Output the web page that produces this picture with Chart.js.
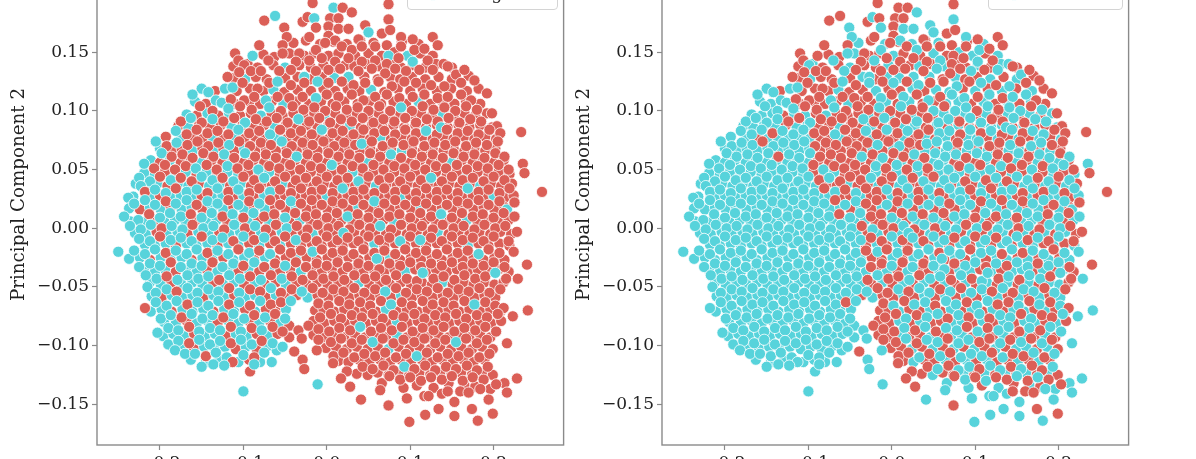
<!DOCTYPE html>
<html>
<head>
<meta charset="utf-8">
<script src="https://cdn.jsdelivr.net/npm/chart.js@4.4.1/dist/chart.umd.min.js"></script>
<style>
html,body{margin:0;padding:0;background:#fff;overflow:hidden;width:1196px;height:459px;position:relative;}
canvas{position:absolute;top:-72px;}
#chartTrue{left:0;}
#chartCluster{left:565px;}
.legend{position:absolute;top:-52px;height:62px;border:1px solid #d4d4d4;border-radius:4px;background:rgba(255,255,255,0.85);font-family:'DejaVu Serif',serif;font-size:17px;color:#222;box-sizing:border-box;}
.legend .mk{position:absolute;width:12px;height:12px;border-radius:50%;border:0.8px solid #fff;box-sizing:border-box;}
.legend .tx{position:absolute;line-height:17px;white-space:nowrap;}
</style>
</head>
<body>
<canvas id="chartTrue" width="570" height="567"></canvas>
<canvas id="chartCluster" width="570" height="567"></canvas>
<div id="legTrue" class="legend" style="left:407px;width:151px;"></div>
<div id="legCluster" class="legend" style="left:988px;width:135px;"></div>
<script>
// ---- tick labels / names ----
const xTicks = [-0.2, -0.1, 0.0, 0.1, 0.2];
const yTicks = [-0.15, -0.10, -0.05, 0.00, 0.05, 0.10, 0.15, 0.20];
const classNames = ['Benign', 'Malignant'];
const clusterNames = ['Cluster 0', 'Cluster 1'];
const xTitle = 'Principal Component 1';
const yTitle = 'Principal Component 2';

// ---- samples: [PC1, PC2, true class, cluster] ----
const topRows = [
[-0.017,0.192,0,0],[0.008,0.188,1,0],[0.019,0.188,0,0],[0.030,0.184,0,1],[0.074,0.191,0,0],
[-0.075,0.177,0,0],[-0.062,0.181,1,0],[-0.029,0.176,0,0],[-0.023,0.180,0,1],[-0.015,0.179,1,0],[0.004,0.179,0,0],[0.014,0.179,0,0],[0.046,0.173,0,1],[0.074,0.178,0,1],
[-0.051,0.171,0,1],[-0.013,0.171,0,1],[0.002,0.172,0,0],[0.014,0.170,0,1],[0.026,0.170,0,1],[0.050,0.167,1,1],[0.066,0.166,0,0],[0.076,0.169,0,0],[-0.048,0.163,0,1],[-0.021,0.163,0,0],[0.002,0.164,0,0],[0.010,0.160,0,1],[0.038,0.161,0,0],[0.089,0.163,0,1],[0.103,0.161,0,0],[0.127,0.163,0,0],
[-0.081,0.156,0,0],[-0.053,0.156,0,0],[-0.053,0.149,0,1],[-0.033,0.149,0,0],[-0.013,0.152,0,1],[-0.002,0.158,0,0],[0.018,0.155,0,0],[0.030,0.152,0,1],[0.042,0.155,0,0],[0.058,0.155,0,0],[0.074,0.147,1,0],[0.089,0.155,0,0],[0.105,0.152,0,1],[0.117,0.153,0,0],[0.133,0.156,0,0],
[-0.110,0.149,0,0],[-0.106,0.143,0,0],[-0.099,0.139,0,1],[-0.089,0.147,1,0],[-0.070,0.143,0,1],[-0.037,0.142,0,0],[-0.021,0.143,0,1],[-0.006,0.145,0,0],[0.010,0.142,0,0],[0.026,0.145,0,0],[0.042,0.142,0,0],[0.058,0.143,0,1],[0.072,0.140,0,0],[0.086,0.145,0,0],[0.103,0.142,1,1],[0.121,0.143,0,0],[0.140,0.140,0,1],
[-0.119,0.129,0,0],[-0.105,0.133,0,0],[-0.091,0.134,0,0],[-0.079,0.134,0,0],[-0.057,0.134,0,1],[-0.043,0.135,0,0],[-0.027,0.129,1,1],[-0.013,0.134,0,0],[0.002,0.135,0,0],[0.016,0.136,0,0],[0.026,0.129,1,1],[0.038,0.134,0,0],[0.054,0.136,0,1],[0.070,0.132,0,0],[0.082,0.136,0,0],[0.095,0.134,0,1],[0.111,0.135,0,0],[0.127,0.135,0,1],[0.145,0.138,0,0],[0.155,0.131,0,1],[0.165,0.135,0,0],
[-0.113,0.120,1,1],[-0.101,0.124,0,0],[-0.083,0.119,0,0],[-0.069,0.124,0,0],[-0.059,0.125,1,1],[-0.043,0.122,0,0],[-0.027,0.124,0,1],[-0.011,0.125,1,0],[0.002,0.124,0,1],[0.018,0.125,0,0],[0.032,0.122,0,1],[0.046,0.124,0,0],[0.062,0.125,0,0],[0.078,0.121,0,1],[0.093,0.125,0,0],[0.107,0.124,0,1],[0.125,0.122,0,0],[0.141,0.121,0,1],[0.161,0.124,0,0],[0.177,0.126,0,0],
[-0.161,0.114,1,1],[-0.142,0.116,1,1],[-0.126,0.107,1,1],[-0.115,0.110,0,0],[-0.099,0.109,0,0],[-0.087,0.112,0,0],[-0.073,0.109,1,1],[-0.059,0.112,0,0],[-0.045,0.111,0,0],[-0.029,0.112,0,0],[-0.013,0.111,1,1],[0.000,0.114,0,0],[0.014,0.112,0,1],[0.030,0.114,0,0],[0.044,0.109,0,1],[0.058,0.112,0,0],[0.072,0.114,0,1],[0.087,0.111,0,1],[0.103,0.112,0,0],[0.117,0.114,0,1],[0.133,0.111,0,0],[0.145,0.112,0,1],[0.161,0.114,0,1],[0.173,0.109,0,0],[0.192,0.115,0,0],
[-0.152,0.104,0,1],[-0.137,0.100,0,1],[-0.118,0.102,1,1],[-0.104,0.104,0,0],[-0.090,0.101,0,0],[-0.069,0.103,1,1],[-0.055,0.100,0,0],[-0.041,0.104,0,0],[-0.028,0.101,0,0],[-0.015,0.103,0,1],[-0.002,0.100,0,0],[0.011,0.104,0,1],[0.024,0.101,0,0],[0.037,0.103,0,0],[0.050,0.100,0,1],[0.063,0.104,0,0],[0.076,0.100,0,1],[0.089,0.103,1,1],[0.102,0.100,0,0],[0.115,0.104,0,1],[0.128,0.101,0,0],[0.141,0.103,0,1],[0.154,0.100,0,1],[0.167,0.104,0,0],[0.180,0.101,0,1],[0.198,0.098,0,0]
];

const midRows = [
[-0.175,0.091,0,1],[-0.163,0.094,1,1],[-0.150,0.090,0,1],[-0.137,0.093,1,1],[-0.124,0.091,0,0],[-0.111,0.094,0,0],[-0.098,0.090,1,1],[-0.085,0.093,0,0],[-0.072,0.091,0,0],[-0.060,0.094,0,0],[-0.047,0.090,0,0],[-0.034,0.093,1,1],[-0.021,0.091,0,0],[-0.009,0.094,0,1],[0.004,0.090,0,0],[0.017,0.093,0,0],[0.030,0.091,0,1],[0.043,0.094,0,0],[0.056,0.090,0,1],[0.068,0.093,0,1],[0.081,0.091,0,0],[0.094,0.094,0,1],[0.107,0.090,0,1],[0.120,0.093,0,0],[0.133,0.091,0,0],[0.146,0.094,0,1],[0.159,0.090,0,0],[0.172,0.093,0,1],[0.185,0.091,0,1],[0.204,0.087,0,0],
[-0.181,0.083,1,1],[-0.168,0.080,0,1],[-0.156,0.084,0,1],[-0.143,0.081,0,0],[-0.131,0.083,0,1],[-0.118,0.080,0,1],[-0.106,0.084,1,1],[-0.093,0.081,0,0],[-0.081,0.083,0,0],[-0.068,0.080,1,1],[-0.056,0.084,0,0],[-0.043,0.081,0,0],[-0.031,0.083,0,1],[-0.018,0.080,0,0],[-0.006,0.084,1,1],[0.007,0.081,0,0],[0.019,0.083,0,1],[0.032,0.080,0,0],[0.044,0.084,0,0],[0.057,0.081,0,1],[0.069,0.083,0,1],[0.082,0.080,0,0],[0.094,0.084,0,1],[0.107,0.081,0,0],[0.119,0.083,1,1],[0.132,0.080,0,0],[0.137,0.086,1,1],[0.144,0.084,0,1],[0.157,0.081,0,0],[0.169,0.083,0,1],[0.182,0.080,0,1],[0.195,0.084,0,0],[0.208,0.081,0,0],[0.233,0.082,0,0],
[-0.205,0.074,1,1],[-0.192,0.070,0,1],[-0.180,0.073,1,1],[-0.167,0.071,0,1],[-0.155,0.074,0,0],[-0.142,0.070,0,1],[-0.130,0.073,0,1],[-0.117,0.071,1,1],[-0.105,0.074,0,1],[-0.092,0.070,0,0],[-0.079,0.073,0,0],[-0.067,0.071,0,0],[-0.054,0.074,1,0],[-0.042,0.070,0,0],[-0.029,0.073,0,0],[-0.017,0.071,0,1],[-0.004,0.074,0,0],[0.009,0.070,0,1],[0.021,0.073,0,0],[0.034,0.071,0,0],[0.042,0.072,1,1],[0.054,0.074,0,1],[0.067,0.070,0,1],[0.079,0.073,0,0],[0.092,0.071,0,1],[0.104,0.074,0,1],[0.117,0.070,0,0],[0.129,0.073,0,0],[0.142,0.071,0,1],[0.154,0.074,0,0],[0.167,0.070,0,1],[0.179,0.073,0,1],[0.192,0.071,0,0],[0.205,0.074,0,0],
[-0.198,0.064,1,1],[-0.186,0.061,0,1],[-0.173,0.063,0,1],[-0.161,0.060,0,1],[-0.148,0.064,0,1],[-0.136,0.061,0,0],[-0.123,0.063,1,1],[-0.111,0.060,0,1],[-0.098,0.064,1,1],[-0.086,0.061,0,0],[-0.073,0.063,0,0],[-0.061,0.060,0,0],[-0.048,0.064,0,0],[-0.036,0.061,1,1],[-0.023,0.063,0,0],[-0.011,0.060,0,1],[0.002,0.064,0,0],[0.014,0.061,0,0],[0.027,0.063,0,1],[0.039,0.060,0,0],[0.052,0.064,0,1],[0.064,0.061,0,1],[0.077,0.063,1,1],[0.089,0.060,0,0],[0.102,0.064,0,1],[0.114,0.061,0,1],[0.127,0.063,0,0],[0.139,0.060,0,0],[0.152,0.064,0,1],[0.164,0.061,0,0],[0.177,0.063,0,1],[0.189,0.060,0,1],[0.202,0.064,0,0],[0.213,0.061,0,1],
[-0.219,0.055,1,1],[-0.207,0.051,0,1],[-0.194,0.054,0,1],[-0.182,0.050,0,1],[-0.169,0.053,0,1],[-0.157,0.051,1,1],[-0.144,0.054,0,1],[-0.132,0.050,0,1],[-0.119,0.053,1,1],[-0.107,0.051,0,1],[-0.094,0.054,0,0],[-0.082,0.050,1,1],[-0.069,0.053,0,0],[-0.057,0.051,0,0],[-0.044,0.054,0,0],[-0.032,0.050,0,0],[-0.019,0.053,0,1],[-0.007,0.051,0,0],[0.006,0.054,1,1],[0.018,0.050,0,0],[0.031,0.053,0,1],[0.043,0.051,0,0],[0.056,0.054,0,1],[0.068,0.050,0,1],[0.081,0.053,0,0],[0.093,0.051,0,1],[0.106,0.054,0,0],[0.118,0.050,0,1],[0.131,0.053,0,1],[0.143,0.051,0,0],[0.156,0.054,0,0],[0.168,0.050,0,1],[0.181,0.053,0,0],[0.193,0.051,0,1],[0.206,0.054,0,1],[0.218,0.050,0,0],[0.235,0.055,0,1],[0.237,0.047,0,0],
[-0.225,0.043,1,1],[-0.212,0.040,1,1],[-0.200,0.044,0,1],[-0.187,0.041,1,1],[-0.175,0.043,0,1],[-0.162,0.040,0,1],[-0.150,0.044,1,1],[-0.137,0.041,1,1],[-0.125,0.043,0,1],[-0.112,0.040,1,1],[-0.100,0.044,0,1],[-0.087,0.041,0,0],[-0.075,0.043,1,1],[-0.062,0.040,0,0],[-0.050,0.044,0,0],[-0.037,0.041,0,0],[-0.025,0.043,0,1],[-0.012,0.040,0,0],[0.000,0.044,0,0],[0.013,0.041,0,1],[0.025,0.043,0,0],[0.038,0.040,1,1],[0.050,0.044,0,0],[0.063,0.041,0,1],[0.075,0.043,0,1],[0.088,0.040,0,0],[0.100,0.044,0,1],[0.113,0.041,0,0],[0.125,0.043,1,1],[0.138,0.040,0,0],[0.150,0.044,0,1],[0.163,0.041,0,1],[0.175,0.043,0,0],[0.188,0.040,0,1],[0.200,0.044,0,0],[0.213,0.041,0,1],
[-0.238,0.026,1,1],[-0.223,0.036,1,1],[-0.218,0.031,0,1],[-0.206,0.033,1,1],[-0.193,0.030,1,1],[-0.181,0.034,0,1],[-0.168,0.031,1,1],[-0.156,0.033,1,1],[-0.143,0.030,0,1],[-0.131,0.034,1,1],[-0.118,0.031,0,1],[-0.106,0.033,1,1],[-0.093,0.030,0,1],[-0.081,0.034,0,0],[-0.068,0.031,1,1],[-0.056,0.033,0,0],[-0.043,0.030,0,1],[-0.031,0.034,0,0],[-0.018,0.031,0,0],[-0.006,0.033,0,1],[0.007,0.030,0,0],[0.019,0.034,1,1],[0.032,0.031,0,0],[0.044,0.033,0,1],[0.057,0.030,0,0],[0.069,0.034,0,1],[0.082,0.031,0,1],[0.094,0.033,0,0],[0.107,0.030,0,1],[0.119,0.034,0,0],[0.132,0.031,0,1],[0.144,0.033,0,1],[0.157,0.030,0,0],[0.169,0.034,1,1],[0.182,0.031,0,0],[0.194,0.033,0,1],[0.207,0.030,0,0],[0.219,0.034,0,1],[0.258,0.031,0,0],
[-0.231,0.021,1,1],[-0.218,0.024,1,1],[-0.206,0.020,1,1],[-0.193,0.023,0,1],[-0.181,0.021,1,1],[-0.168,0.024,1,1],[-0.156,0.020,0,1],[-0.143,0.023,1,1],[-0.131,0.021,1,1],[-0.118,0.024,0,1],[-0.106,0.020,1,1],[-0.093,0.023,0,1],[-0.081,0.021,1,1],[-0.068,0.024,0,0],[-0.056,0.020,0,1],[-0.043,0.023,1,1],[-0.031,0.021,0,0],[-0.018,0.024,0,0],[-0.006,0.020,0,1],[0.007,0.023,0,0],[0.019,0.021,0,1],[0.032,0.024,0,0],[0.044,0.020,0,1],[0.057,0.023,1,1],[0.069,0.021,0,0],[0.082,0.024,0,1],[0.094,0.020,0,1],[0.107,0.023,0,0],[0.119,0.021,0,1],[0.132,0.024,0,0],[0.144,0.020,0,1],[0.157,0.023,0,0],[0.169,0.021,0,1],[0.182,0.024,0,1],[0.194,0.020,0,0],[0.207,0.023,0,1],[0.216,0.016,1,1],[0.225,0.022,0,0],
[-0.243,0.010,1,1],[-0.226,0.007,1,1],[-0.213,0.012,0,1],[-0.200,0.009,1,1],[-0.188,0.013,1,1],[-0.175,0.010,1,1],[-0.163,0.012,0,1],[-0.150,0.009,1,1],[-0.138,0.013,1,1],[-0.125,0.010,0,1],[-0.113,0.012,1,1],[-0.100,0.009,0,1],[-0.088,0.013,1,1],[-0.075,0.010,0,1],[-0.063,0.012,0,0],[-0.050,0.009,1,1],[-0.038,0.013,0,1],[-0.025,0.010,0,0],[-0.013,0.012,0,0],[0.000,0.009,0,1],[0.012,0.013,0,0],[0.025,0.010,1,1],[0.037,0.012,0,0],[0.050,0.009,0,1],[0.062,0.013,0,0],[0.075,0.010,0,1],[0.087,0.012,0,1],[0.100,0.009,0,0],[0.112,0.013,0,1],[0.125,0.010,0,0],[0.137,0.012,1,1],[0.150,0.009,0,0],[0.162,0.013,0,1],[0.175,0.010,0,1],[0.187,0.012,0,0],[0.200,0.009,0,1],[0.212,0.013,0,0],[0.225,0.010,0,1],
[-0.236,0.002,1,1],[-0.223,-0.001,1,1],[-0.211,0.003,1,1],[-0.198,0.000,0,1],[-0.186,0.002,1,1],[-0.173,-0.001,1,1],[-0.161,0.003,0,1],[-0.148,0.000,1,1],[-0.136,0.002,1,1],[-0.123,-0.001,0,1],[-0.111,0.003,1,1],[-0.098,0.000,0,1],[-0.086,0.002,1,1],[-0.073,-0.001,0,1],[-0.061,0.003,0,1],[-0.048,0.000,1,1],[-0.036,0.002,0,0],[-0.023,-0.001,0,1],[-0.011,0.003,0,0],[0.002,0.000,0,0],[0.014,0.002,0,1],[0.027,-0.001,0,0],[0.039,0.003,0,1],[0.052,0.000,0,0],[0.064,0.002,1,1],[0.077,-0.001,0,1],[0.089,0.003,0,0],[0.102,0.000,0,1],[0.114,0.002,0,0],[0.127,-0.001,0,1],[0.139,0.003,0,1],[0.152,0.000,0,0],[0.164,0.002,0,1],[0.177,-0.001,0,0],[0.189,0.003,0,1],[0.202,0.000,0,1],[0.214,0.002,0,0],[0.228,-0.003,0,0],
[-0.225,-0.009,1,1],[-0.212,-0.011,1,1],[-0.200,-0.007,0,1],[-0.187,-0.010,1,1],[-0.175,-0.008,1,1],[-0.162,-0.011,1,1],[-0.150,-0.007,0,1],[-0.137,-0.010,1,1],[-0.125,-0.008,1,1],[-0.112,-0.011,0,1],[-0.100,-0.007,1,1],[-0.087,-0.010,0,1],[-0.075,-0.008,1,1],[-0.062,-0.011,0,1],[-0.050,-0.007,0,1],[-0.037,-0.010,1,1],[-0.025,-0.008,0,0],[-0.012,-0.011,0,0],[0.000,-0.007,0,1],[0.013,-0.010,0,0],[0.020,-0.004,1,1],[0.025,-0.008,0,1],[0.038,-0.011,0,0],[0.050,-0.007,0,1],[0.063,-0.010,0,1],[0.075,-0.008,0,0],[0.088,-0.011,1,1],[0.100,-0.007,0,0],[0.112,-0.010,1,1],[0.125,-0.008,0,0],[0.138,-0.011,0,1],[0.150,-0.007,0,1],[0.163,-0.010,0,0],[0.175,-0.008,0,1],[0.188,-0.011,0,0],[0.200,-0.007,0,1],[0.218,-0.011,0,0]
];

const lowRows = [
[-0.250,-0.020,1,1],[-0.231,-0.019,1,1],[-0.218,-0.022,1,1],[-0.206,-0.018,1,1],[-0.193,-0.021,0,1],[-0.181,-0.019,1,1],[-0.168,-0.022,1,1],[-0.156,-0.018,1,1],[-0.143,-0.021,0,1],[-0.131,-0.019,1,1],[-0.118,-0.022,1,1],[-0.106,-0.018,0,1],[-0.093,-0.021,1,1],[-0.081,-0.019,0,1],[-0.068,-0.022,1,1],[-0.056,-0.018,0,1],[-0.043,-0.021,0,1],[-0.031,-0.019,0,0],[-0.017,-0.020,1,1],[-0.006,-0.018,0,0],[0.007,-0.021,0,1],[0.019,-0.019,0,0],[0.032,-0.022,0,1],[0.044,-0.018,0,1],[0.057,-0.021,0,0],[0.069,-0.019,0,1],[0.082,-0.022,0,1],[0.094,-0.018,0,0],[0.107,-0.021,0,1],[0.119,-0.019,0,1],[0.132,-0.022,0,0],[0.144,-0.018,0,1],[0.157,-0.021,0,0],[0.169,-0.019,0,1],[0.182,-0.022,1,1],[0.194,-0.018,0,0],[0.207,-0.021,0,1],[0.224,-0.020,0,1],
[-0.225,-0.033,1,1],[-0.212,-0.030,1,1],[-0.200,-0.032,1,1],[-0.187,-0.029,0,1],[-0.175,-0.033,1,1],[-0.162,-0.030,1,1],[-0.150,-0.032,1,1],[-0.137,-0.029,0,1],[-0.125,-0.033,1,1],[-0.112,-0.030,1,1],[-0.100,-0.032,0,1],[-0.087,-0.029,1,1],[-0.075,-0.033,0,1],[-0.062,-0.030,0,1],[-0.050,-0.032,1,1],[-0.037,-0.029,0,1],[-0.025,-0.033,0,0],[-0.012,-0.030,0,0],[0.000,-0.032,0,1],[0.013,-0.029,0,0],[0.025,-0.033,0,1],[0.038,-0.030,0,0],[0.050,-0.032,0,1],[0.060,-0.026,1,1],[0.063,-0.035,0,1],[0.075,-0.030,0,0],[0.088,-0.032,0,1],[0.100,-0.029,0,1],[0.113,-0.033,0,0],[0.125,-0.030,0,1],[0.138,-0.032,0,0],[0.150,-0.029,0,1],[0.163,-0.033,0,1],[0.175,-0.030,0,0],[0.188,-0.032,0,1],[0.200,-0.029,0,1],[0.213,-0.033,0,0],[0.240,-0.031,0,0],
[-0.217,-0.040,1,1],[-0.204,-0.043,1,1],[-0.192,-0.041,0,1],[-0.179,-0.044,1,1],[-0.167,-0.040,1,1],[-0.154,-0.043,1,1],[-0.142,-0.041,1,1],[-0.129,-0.044,0,1],[-0.117,-0.040,1,1],[-0.104,-0.043,1,1],[-0.092,-0.041,0,1],[-0.079,-0.044,1,1],[-0.067,-0.040,0,1],[-0.054,-0.043,1,1],[-0.042,-0.041,0,1],[-0.029,-0.044,0,0],[-0.017,-0.040,0,1],[-0.004,-0.043,0,0],[0.008,-0.041,0,0],[0.021,-0.044,0,1],[0.033,-0.040,0,0],[0.046,-0.043,0,1],[0.058,-0.041,0,1],[0.071,-0.044,0,0],[0.083,-0.040,0,1],[0.096,-0.043,0,0],[0.108,-0.045,0,1],[0.115,-0.038,1,1],[0.128,-0.043,0,0],[0.140,-0.041,0,1],[0.153,-0.044,0,0],[0.165,-0.040,0,1],[0.178,-0.043,0,1],[0.190,-0.041,0,0],[0.202,-0.038,1,1],[0.215,-0.043,0,0],[0.229,-0.043,0,1],
[-0.215,-0.050,1,1],[-0.205,-0.055,1,1],[-0.192,-0.052,1,1],[-0.180,-0.054,0,1],[-0.167,-0.051,1,1],[-0.155,-0.055,1,1],[-0.142,-0.052,1,1],[-0.130,-0.054,1,1],[-0.117,-0.051,0,1],[-0.105,-0.055,1,1],[-0.092,-0.052,0,1],[-0.080,-0.054,0,1],[-0.067,-0.051,1,1],[-0.055,-0.055,0,1],[-0.042,-0.052,0,1],[-0.030,-0.054,1,1],[-0.017,-0.051,0,0],[-0.005,-0.055,0,0],[0.008,-0.052,0,1],[0.020,-0.054,0,0],[0.033,-0.051,0,1],[0.045,-0.055,0,1],[0.058,-0.052,0,0],[0.070,-0.054,1,1],[0.083,-0.051,0,0],[0.095,-0.055,0,1],[0.108,-0.052,0,1],[0.120,-0.054,0,0],[0.133,-0.051,0,1],[0.145,-0.055,0,0],[0.158,-0.052,0,1],[0.170,-0.054,0,1],[0.183,-0.051,0,0],[0.195,-0.055,0,1],[0.208,-0.052,0,0],
[-0.218,-0.068,0,1],[-0.205,-0.063,1,1],[-0.192,-0.066,1,1],[-0.180,-0.062,1,1],[-0.167,-0.065,0,1],[-0.155,-0.063,1,1],[-0.142,-0.066,1,1],[-0.130,-0.062,1,1],[-0.117,-0.065,0,1],[-0.105,-0.063,1,1],[-0.092,-0.066,0,1],[-0.080,-0.062,1,1],[-0.067,-0.065,0,1],[-0.055,-0.063,0,0],[-0.043,-0.062,1,1],[-0.010,-0.064,0,0],[0.002,-0.066,0,1],[0.015,-0.062,0,0],[0.027,-0.065,0,1],[0.040,-0.063,0,1],[0.052,-0.066,0,0],[0.065,-0.062,0,1],[0.077,-0.065,1,1],[0.090,-0.063,0,0],[0.102,-0.066,0,1],[0.115,-0.062,0,1],[0.127,-0.065,0,0],[0.140,-0.063,0,0],[0.152,-0.066,0,1],[0.165,-0.062,0,0],[0.177,-0.065,1,1],[0.190,-0.063,0,0],[0.202,-0.066,0,1],[0.212,-0.068,0,0],
[-0.199,-0.077,1,1],[-0.187,-0.074,1,1],[-0.174,-0.076,0,1],[-0.162,-0.073,1,1],[-0.149,-0.077,1,1],[-0.137,-0.074,1,1],[-0.124,-0.076,0,1],[-0.112,-0.073,1,1],[-0.099,-0.077,1,1],[-0.087,-0.074,0,1],[-0.074,-0.076,1,1],[-0.062,-0.073,0,1],[-0.050,-0.077,1,1],[-0.008,-0.076,0,0],[0.005,-0.073,0,0],[0.017,-0.077,0,1],[0.030,-0.074,0,0],[0.042,-0.076,0,1],[0.055,-0.073,0,1],[0.067,-0.077,0,0],[0.080,-0.074,0,1],[0.092,-0.076,0,0],[0.105,-0.073,0,1],[0.117,-0.077,0,0],[0.130,-0.074,0,1],[0.142,-0.076,0,1],[0.155,-0.073,0,0],[0.167,-0.077,0,1],[0.180,-0.074,0,0],[0.192,-0.076,0,0],[0.205,-0.073,0,1],[0.223,-0.075,0,1],[0.241,-0.070,0,1],
[-0.203,-0.089,1,1],[-0.190,-0.085,1,1],[-0.178,-0.087,1,1],[-0.165,-0.084,0,1],[-0.153,-0.088,1,1],[-0.140,-0.085,1,1],[-0.128,-0.087,1,1],[-0.115,-0.084,0,1],[-0.103,-0.088,1,1],[-0.090,-0.085,0,1],[-0.078,-0.087,1,1],[-0.065,-0.084,0,1],[-0.053,-0.088,0,1],[-0.022,-0.083,0,0],[-0.010,-0.086,0,0],[0.003,-0.088,0,0],[0.015,-0.085,0,1],[0.028,-0.087,0,0],[0.040,-0.084,1,1],[0.053,-0.088,0,0],[0.065,-0.085,0,1],[0.078,-0.087,0,1],[0.090,-0.084,0,0],[0.103,-0.088,0,1],[0.115,-0.085,0,0],[0.128,-0.087,0,1],[0.140,-0.084,0,1],[0.153,-0.088,0,0],[0.165,-0.085,0,1],[0.178,-0.087,0,0],[0.190,-0.084,0,1],[0.203,-0.088,0,1],
[-0.190,-0.099,1,1],[-0.178,-0.096,1,1],[-0.165,-0.098,0,1],[-0.153,-0.095,1,1],[-0.140,-0.099,1,1],[-0.128,-0.096,1,1],[-0.115,-0.098,0,1],[-0.103,-0.095,1,1],[-0.090,-0.099,1,1],[-0.078,-0.096,0,1],[-0.065,-0.098,1,1],[-0.053,-0.101,1,1],[-0.039,-0.105,0,0],[-0.012,-0.104,0,1],[-0.010,-0.095,0,0],[0.005,-0.097,0,0],[0.017,-0.094,0,1],[0.030,-0.098,0,0],[0.042,-0.095,0,1],[0.055,-0.097,1,1],[0.067,-0.094,0,0],[0.080,-0.098,0,1],[0.092,-0.095,0,1],[0.105,-0.097,0,0],[0.117,-0.094,0,0],[0.130,-0.098,0,1],[0.142,-0.095,0,0],[0.155,-0.097,1,1],[0.167,-0.094,0,0],[0.180,-0.098,0,1],[0.192,-0.095,0,0],[0.216,-0.098,0,1],
[-0.182,-0.104,1,1],[-0.170,-0.107,1,1],[-0.158,-0.107,1,1],[-0.145,-0.109,0,1],[-0.133,-0.106,1,1],[-0.120,-0.110,1,1],[-0.113,-0.114,0,1],[-0.100,-0.108,1,1],[-0.087,-0.110,0,1],[-0.075,-0.106,1,1],[-0.066,-0.114,1,1],[-0.029,-0.112,0,1],[0.008,-0.109,0,0],[0.020,-0.106,0,0],[0.033,-0.110,0,1],[0.045,-0.107,0,0],[0.058,-0.109,0,1],[0.070,-0.106,0,0],[0.083,-0.110,0,1],[0.095,-0.107,0,1],[0.108,-0.109,1,1],[0.120,-0.106,0,0],[0.133,-0.110,0,1],[0.145,-0.107,0,0],[0.158,-0.109,0,0],[0.170,-0.106,0,1],[0.183,-0.110,0,0],[0.195,-0.107,0,1],
[-0.150,-0.118,1,1],[-0.136,-0.116,1,1],[-0.123,-0.117,1,1],[-0.092,-0.122,0,1],[-0.087,-0.116,1,1],[-0.027,-0.120,0,1],[0.0075,-0.115,0,0],[0.024,-0.122,0,0],[0.043,-0.118,0,0],[0.055,-0.120,0,1],[0.068,-0.117,0,0],[0.080,-0.121,0,1],[0.093,-0.118,1,1],[0.105,-0.120,0,0],[0.118,-0.117,0,1],[0.130,-0.121,0,1],[0.143,-0.118,0,0],[0.155,-0.120,0,1],[0.168,-0.117,0,0],[0.180,-0.121,0,0],[0.193,-0.118,0,1],
[0.017,-0.128,0,0],[0.066,-0.132,0,1],[0.075,-0.126,0,0],[0.088,-0.129,0,1],[0.100,-0.127,0,0],[0.113,-0.130,0,1],[0.125,-0.127,0,0],[0.138,-0.129,0,0],[0.150,-0.126,0,1],[0.163,-0.130,0,0],[0.175,-0.127,0,1],[0.188,-0.129,0,0],[0.213,-0.132,0,1],[0.228,-0.128,0,1]
];

const fillRows = [
[-0.040,0.158,0,1],[-0.025,0.160,0,0],[-0.008,0.157,0,1],[0.008,0.159,0,0],[0.024,0.157,0,1],[0.040,0.160,0,0],[0.056,0.158,0,1],[0.072,0.156,0,0],[0.090,0.159,0,0],[0.110,0.157,0,1],
[-0.076,0.148,0,0],[-0.063,0.146,0,0],[-0.045,0.149,0,1],[-0.027,0.147,0,0],[-0.015,0.149,0,0],[0.002,0.147,0,1],[0.014,0.149,0,0],[0.034,0.147,0,0],[0.050,0.149,0,1],[0.066,0.147,0,0],[0.081,0.150,0,1],[0.097,0.147,1,1],[0.112,0.149,0,0],[0.127,0.147,0,1],
[-0.112,0.138,0,0],[-0.095,0.140,0,1],[-0.083,0.137,0,0],[-0.064,0.139,0,0],[-0.050,0.137,1,1],[-0.033,0.139,0,0],[-0.019,0.137,0,0],[-0.004,0.139,0,1],[0.009,0.137,0,0],[0.022,0.139,0,0],[0.033,0.138,0,1],[0.047,0.140,0,0],[0.063,0.138,0,1],[0.077,0.140,0,0],[0.089,0.137,0,0],[0.103,0.139,0,1],[0.118,0.137,0,0],[0.131,0.140,0,1],[0.150,0.137,0,0],
[-0.112,0.128,0,0],[-0.098,0.127,1,1],[-0.085,0.129,0,0],[-0.072,0.127,0,0],[-0.050,0.128,0,0],[-0.035,0.129,0,1],[-0.020,0.127,0,0],[-0.006,0.129,0,1],[0.009,0.128,1,1],[0.024,0.126,0,0],[0.045,0.129,0,1],[0.061,0.127,0,0],[0.076,0.129,0,1],[0.088,0.127,0,0],[0.102,0.129,0,0],[0.118,0.127,0,1],[0.134,0.129,0,0],[0.150,0.127,0,1],[0.170,0.130,0,0],
[-0.150,0.119,1,1],[-0.134,0.117,0,0],[-0.122,0.119,1,1],[-0.108,0.117,0,0],[-0.092,0.119,0,0],[-0.076,0.117,0,0],[-0.064,0.118,1,1],[-0.051,0.116,0,0],[-0.035,0.118,0,0],[-0.019,0.117,0,1],[-0.004,0.119,0,0],[0.010,0.117,0,0],[0.025,0.119,0,1],[0.039,0.117,0,0],[0.053,0.118,1,1],[0.069,0.116,0,1],[0.085,0.119,0,0],[0.100,0.117,0,1],[0.115,0.119,0,0],[0.132,0.117,0,1],[0.149,0.119,0,0],[0.168,0.117,0,1],[0.182,0.119,0,0],
[-0.158,0.108,1,1],[-0.145,0.106,0,1],[-0.133,0.109,1,1],[-0.110,0.106,0,0],[-0.093,0.108,0,0],[-0.080,0.106,0,0],[-0.066,0.108,0,0],[-0.052,0.106,1,1],[-0.037,0.108,0,0],[-0.021,0.106,0,0],[-0.007,0.108,0,1],[0.007,0.106,0,0],[0.021,0.108,0,1],[0.037,0.106,0,0],[0.051,0.108,0,0],[0.065,0.106,0,1],[0.080,0.108,0,1],[0.095,0.106,0,0],[0.110,0.108,1,1],[0.124,0.106,0,0],[0.139,0.108,0,1],[0.153,0.106,0,0],[0.167,0.108,0,1],[0.184,0.106,0,0],
[-0.168,0.097,1,1],[-0.156,0.096,0,1],[-0.143,0.098,1,1],[-0.130,0.096,0,0],[-0.117,0.098,1,1],[-0.104,0.096,0,1],[-0.091,0.098,0,0],[-0.079,0.096,1,1],[-0.066,0.098,0,0],[-0.053,0.096,0,0],[-0.040,0.098,0,0],[-0.028,0.096,0,1],[-0.015,0.098,0,0],[-0.003,0.096,1,1],[0.010,0.098,0,0],[0.023,0.096,0,1],[0.036,0.098,0,0],[0.049,0.096,0,0],[0.062,0.098,0,1],[0.075,0.096,0,0],[0.088,0.098,0,1],[0.101,0.096,0,0],[0.113,0.098,0,1],[0.126,0.096,0,0],[0.139,0.098,1,1],[0.152,0.096,0,0],[0.165,0.098,0,1],[0.178,0.096,0,0],[0.192,0.098,0,1],
[-0.178,0.087,0,1],[-0.166,0.086,1,1],[-0.153,0.088,0,1],[-0.140,0.086,0,1],[-0.127,0.088,0,0],[-0.114,0.086,1,1],[-0.101,0.088,0,1],[-0.088,0.086,0,0],[-0.075,0.088,0,0],[-0.062,0.086,1,1],[-0.049,0.088,0,0],[-0.036,0.086,0,0],[-0.024,0.088,0,1],[-0.011,0.086,0,0],[0.002,0.088,0,0],[0.015,0.086,0,1],[0.028,0.088,1,1],[0.041,0.086,0,0],[0.054,0.088,0,1],[0.067,0.086,0,0],[0.080,0.088,0,1],[0.093,0.086,0,0],[0.106,0.088,0,0],[0.119,0.086,0,1],[0.132,0.088,0,1],[0.145,0.086,0,0],[0.158,0.088,0,1],[0.171,0.086,0,0],[0.184,0.088,0,0],[0.198,0.086,0,1],
[-0.193,0.078,0,1],[-0.175,0.076,1,1],[-0.162,0.078,0,0],[-0.149,0.076,0,1],[-0.137,0.078,1,1],[-0.124,0.076,0,1],[-0.111,0.078,1,1],[-0.099,0.076,0,1],[-0.086,0.078,0,0],[-0.074,0.076,0,0],[-0.061,0.077,1,1],[-0.048,0.076,0,0],[-0.036,0.078,0,0],[-0.023,0.076,0,1],[-0.010,0.078,0,0],[0.002,0.076,0,0],[0.015,0.078,0,1],[0.027,0.076,0,0],[0.040,0.078,0,1],[0.052,0.076,0,0],[0.065,0.078,1,1],[0.077,0.076,0,0],[0.090,0.078,0,1],[0.102,0.076,0,1],[0.115,0.078,0,0],[0.127,0.076,0,1],[0.140,0.078,0,0],[0.152,0.076,0,1],[0.165,0.078,0,0],[0.177,0.076,0,1],[0.190,0.078,0,0],[0.203,0.076,0,1],
[-0.200,0.068,1,1],[-0.186,0.066,0,1],[-0.174,0.068,0,1],[-0.161,0.066,1,1],[-0.149,0.068,0,1],[-0.136,0.066,1,1],[-0.124,0.068,0,1],[-0.111,0.066,0,1],[-0.099,0.068,1,1],[-0.086,0.066,0,0],[-0.073,0.068,0,0],[-0.061,0.066,0,0],[-0.048,0.068,0,0],[-0.036,0.066,0,0],[-0.023,0.068,0,1],[-0.011,0.066,0,0],[0.002,0.068,0,1],[0.015,0.066,0,0],[0.027,0.068,0,0],[0.040,0.066,0,1],[0.052,0.068,0,0],[0.065,0.066,0,1],[0.077,0.068,0,0],[0.090,0.066,1,1],[0.102,0.068,0,0],[0.115,0.066,0,1],[0.127,0.068,0,0],[0.140,0.066,0,1],[0.152,0.068,0,1],[0.165,0.066,0,0],[0.177,0.068,0,0],[0.190,0.066,0,1],[0.202,0.068,0,0],
[-0.211,0.058,1,1],[-0.200,0.056,0,1],[-0.188,0.058,1,1],[-0.175,0.056,0,1],[-0.163,0.058,0,1],[-0.150,0.056,1,1],[-0.138,0.058,0,1],[-0.125,0.056,0,1],[-0.113,0.058,1,1],[-0.100,0.056,0,1],[-0.088,0.058,0,0],[-0.075,0.056,0,0],[-0.063,0.058,1,1],[-0.050,0.056,0,0],[-0.038,0.058,0,0],[-0.025,0.056,0,0],[-0.013,0.058,0,1],[0.000,0.056,0,0],[0.012,0.058,0,1],[0.025,0.056,0,0],[0.037,0.058,0,0],[0.050,0.056,1,1],[0.062,0.058,0,1],[0.075,0.056,0,0],[0.087,0.058,0,1],[0.100,0.056,0,0],[0.112,0.058,0,1],[0.125,0.056,0,0],[0.137,0.058,0,1],[0.150,0.056,1,1],[0.162,0.058,0,0],[0.175,0.056,0,1],[0.187,0.058,0,0],[0.200,0.056,0,1],[0.212,0.058,0,0],
[-0.219,0.047,1,1],[-0.206,0.046,1,1],[-0.194,0.048,0,1],[-0.181,0.046,1,1],[-0.169,0.048,1,1],[-0.156,0.046,0,1],[-0.144,0.048,1,1],[-0.131,0.046,0,1],[-0.119,0.048,1,1],[-0.106,0.046,1,1],[-0.094,0.048,0,0],[-0.081,0.046,0,0],[-0.069,0.048,1,1],[-0.056,0.046,0,0],[-0.044,0.048,0,0],[-0.031,0.046,0,0],[-0.019,0.048,0,1],[-0.006,0.046,0,0],[0.006,0.048,0,1],[0.019,0.046,0,0],[0.031,0.048,1,1],[0.044,0.046,0,0],[0.056,0.048,0,1],[0.069,0.046,0,0],[0.081,0.048,0,1],[0.094,0.046,0,0],[0.106,0.048,0,1],[0.119,0.046,0,0],[0.131,0.048,0,0],[0.144,0.046,0,1],[0.156,0.048,0,0],[0.169,0.046,1,1],[0.181,0.048,0,0],[0.194,0.046,0,1],[0.206,0.048,0,0],[0.219,0.046,0,1],
[-0.229,0.038,1,1],[-0.216,0.036,1,1],[-0.203,0.038,1,1],[-0.191,0.036,0,1],[-0.178,0.038,1,1],[-0.166,0.036,1,1],[-0.153,0.038,0,1],[-0.141,0.036,1,1],[-0.128,0.038,1,1],[-0.116,0.036,0,1],[-0.103,0.038,1,1],[-0.091,0.036,0,1],[-0.078,0.038,0,0],[-0.066,0.036,0,0],[-0.053,0.038,1,1],[-0.041,0.036,0,0],[-0.028,0.038,0,0],[-0.016,0.036,0,1],[-0.003,0.038,0,0],[0.009,0.036,0,1],[0.022,0.038,0,0],[0.034,0.036,0,0],[0.047,0.038,0,1],[0.059,0.036,1,1],[0.072,0.038,0,0],[0.084,0.036,0,1],[0.097,0.038,0,0],[0.109,0.036,0,1],[0.122,0.038,0,0],[0.134,0.036,0,1],[0.147,0.038,0,0],[0.159,0.036,0,1],[0.172,0.038,0,0],[0.184,0.036,1,1],[0.197,0.038,0,0],[0.209,0.036,0,1],[0.222,0.038,0,0],
[-0.232,0.027,1,1],[-0.212,0.026,1,1],[-0.200,0.028,0,1],[-0.187,0.026,1,1],[-0.175,0.028,1,1],[-0.162,0.026,1,1],[-0.150,0.028,0,1],[-0.137,0.026,1,1],[-0.125,0.028,1,1],[-0.112,0.026,0,1],[-0.100,0.028,1,1],[-0.087,0.026,0,1],[-0.075,0.028,1,1],[-0.062,0.026,0,0],[-0.050,0.028,0,0],[-0.037,0.026,0,1],[-0.025,0.028,0,0],[-0.012,0.026,0,0],[0.000,0.028,1,1],[0.013,0.026,0,0],[0.025,0.028,0,1],[0.038,0.026,0,0],[0.050,0.028,0,1],[0.063,0.026,0,0],[0.075,0.028,0,1],[0.088,0.026,1,1],[0.100,0.028,0,0],[0.113,0.026,0,1],[0.125,0.028,0,0],[0.138,0.026,0,1],[0.150,0.028,0,0],[0.163,0.026,0,1],[0.175,0.028,0,0],[0.188,0.026,0,1],[0.200,0.028,1,1],[0.213,0.026,0,0],[0.224,0.028,0,1],
[-0.237,0.017,1,1],[-0.224,0.016,0,1],[-0.212,0.018,1,1],[-0.199,0.016,1,1],[-0.187,0.018,0,1],[-0.174,0.016,1,1],[-0.162,0.018,1,1],[-0.149,0.016,0,1],[-0.137,0.018,1,1],[-0.124,0.016,1,1],[-0.112,0.018,0,1],[-0.099,0.016,1,1],[-0.087,0.018,0,1],[-0.074,0.016,1,1],[-0.062,0.018,0,1],[-0.049,0.016,0,0],[-0.037,0.018,1,1],[-0.024,0.016,0,0],[-0.012,0.018,0,1],[0.001,0.016,0,0],[0.013,0.018,0,1],[0.026,0.016,0,0],[0.038,0.018,1,1],[0.051,0.016,0,0],[0.063,0.018,0,1],[0.076,0.016,0,0],[0.088,0.018,0,1],[0.101,0.016,0,0],[0.113,0.018,1,1],[0.126,0.016,0,1],[0.138,0.018,0,0],[0.151,0.016,0,1],[0.163,0.018,0,0],[0.176,0.016,0,1],[0.188,0.018,0,0],[0.201,0.016,0,1],[0.213,0.018,0,0],
[-0.236,0.006,1,1],[-0.219,0.005,1,1],[-0.207,0.007,0,1],[-0.194,0.005,1,1],[-0.182,0.007,1,1],[-0.169,0.005,1,1],[-0.157,0.007,0,1],[-0.144,0.005,1,1],[-0.132,0.007,1,1],[-0.119,0.005,0,1],[-0.107,0.007,1,1],[-0.094,0.005,1,1],[-0.082,0.007,0,1],[-0.069,0.005,1,1],[-0.057,0.007,0,1],[-0.044,0.005,0,1],[-0.032,0.007,1,1],[-0.019,0.005,0,0],[-0.007,0.007,0,0],[0.006,0.005,0,1],[0.018,0.007,0,0],[0.031,0.005,0,1],[0.043,0.007,0,0],[0.056,0.005,0,1],[0.068,0.007,0,0],[0.081,0.005,1,1],[0.093,0.007,0,0],[0.106,0.005,0,1],[0.118,0.007,0,0],[0.131,0.005,0,1],[0.143,0.007,0,0],[0.156,0.005,0,1],[0.168,0.007,1,1],[0.181,0.005,0,0],[0.193,0.007,0,1],[0.206,0.005,0,0],[0.218,0.007,0,1],
[-0.230,-0.004,1,1],[-0.217,-0.005,1,1],[-0.204,-0.003,0,1],[-0.192,-0.005,1,1],[-0.179,-0.003,1,1],[-0.167,-0.005,0,1],[-0.154,-0.003,1,1],[-0.142,-0.005,1,1],[-0.129,-0.003,0,1],[-0.117,-0.005,1,1],[-0.104,-0.003,1,1],[-0.092,-0.005,0,1],[-0.079,-0.003,1,1],[-0.067,-0.005,0,1],[-0.054,-0.003,1,1],[-0.042,-0.005,0,1],[-0.029,-0.003,0,0],[-0.017,-0.005,1,1],[-0.004,-0.003,0,0],[0.008,-0.005,0,1],[0.033,-0.003,0,0],[0.046,-0.005,0,1],[0.058,-0.003,0,0],[0.071,-0.005,0,1],[0.083,-0.003,0,0],[0.096,-0.005,0,1],[0.108,-0.003,0,0],[0.121,-0.005,0,1],[0.133,-0.003,1,1],[0.146,-0.005,0,0],[0.158,-0.003,0,1],[0.171,-0.005,0,0],[0.183,-0.003,0,1],[0.196,-0.005,0,0],[0.208,-0.003,0,1],[0.221,-0.005,0,0],
[-0.218,-0.014,1,1],[-0.206,-0.015,1,1],[-0.193,-0.013,1,1],[-0.181,-0.015,0,1],[-0.168,-0.013,1,1],[-0.156,-0.015,1,1],[-0.143,-0.013,1,1],[-0.131,-0.015,0,1],[-0.118,-0.013,1,1],[-0.106,-0.015,1,1],[-0.093,-0.013,0,1],[-0.081,-0.015,1,1],[-0.068,-0.013,0,1],[-0.056,-0.015,1,1],[-0.043,-0.013,0,1],[-0.031,-0.015,0,0],[-0.018,-0.013,0,1],[-0.006,-0.015,0,0],[0.007,-0.013,0,1],[0.019,-0.015,0,0],[0.032,-0.013,0,1],[0.044,-0.015,0,0],[0.057,-0.013,1,1],[0.069,-0.015,0,0],[0.082,-0.013,0,1],[0.094,-0.015,0,0],[0.107,-0.013,0,1],[0.119,-0.015,0,0],[0.132,-0.013,0,1],[0.144,-0.015,0,0],[0.157,-0.013,0,1],[0.169,-0.015,1,1],[0.182,-0.013,0,0],[0.194,-0.015,0,1],[0.207,-0.013,0,0],[0.219,-0.015,0,1],
[-0.237,-0.026,1,1],[-0.224,-0.025,1,1],[-0.212,-0.027,0,1],[-0.199,-0.025,1,1],[-0.187,-0.027,1,1],[-0.174,-0.025,1,1],[-0.162,-0.027,0,1],[-0.149,-0.025,1,1],[-0.137,-0.027,1,1],[-0.124,-0.025,0,1],[-0.112,-0.027,1,1],[-0.099,-0.025,1,1],[-0.087,-0.027,0,1],[-0.074,-0.025,1,1],[-0.062,-0.027,0,1],[-0.049,-0.025,0,1],[-0.037,-0.027,1,1],[-0.024,-0.025,0,0],[-0.012,-0.027,0,0],[0.001,-0.025,0,1],[0.013,-0.027,0,0],[0.026,-0.025,0,1],[0.038,-0.027,0,0],[0.051,-0.025,0,1],[0.063,-0.027,0,0],[0.076,-0.025,1,1],[0.088,-0.027,0,0],[0.101,-0.025,0,1],[0.113,-0.027,0,0],[0.126,-0.025,0,1],[0.138,-0.027,0,1],[0.151,-0.025,0,0],[0.163,-0.027,0,1],[0.176,-0.025,0,0],[0.188,-0.027,0,1],[0.201,-0.025,0,0],[0.213,-0.027,0,1],
[-0.219,-0.036,1,1],[-0.206,-0.037,1,1],[-0.194,-0.035,1,1],[-0.181,-0.037,0,1],[-0.169,-0.035,1,1],[-0.156,-0.037,1,1],[-0.144,-0.035,0,1],[-0.131,-0.037,1,1],[-0.119,-0.035,1,1],[-0.106,-0.037,0,1],[-0.094,-0.035,1,1],[-0.081,-0.037,0,1],[-0.069,-0.035,1,1],[-0.056,-0.037,0,1],[-0.044,-0.035,0,1],[-0.031,-0.037,1,1],[-0.019,-0.035,0,0],[-0.006,-0.037,0,1],[0.006,-0.035,0,0],[0.019,-0.037,0,1],[0.031,-0.035,0,0],[0.044,-0.037,0,0],[0.056,-0.035,0,1],[0.069,-0.037,0,0],[0.081,-0.035,0,1],[0.094,-0.037,1,1],[0.106,-0.035,0,0],[0.119,-0.037,0,1],[0.131,-0.035,0,0],[0.144,-0.037,0,1],[0.156,-0.035,0,1],[0.169,-0.037,0,0],[0.181,-0.035,0,1],[0.194,-0.037,0,0],[0.206,-0.035,0,1],[0.218,-0.037,0,0],
[-0.212,-0.046,1,1],[-0.199,-0.048,1,1],[-0.186,-0.046,0,1],[-0.174,-0.048,1,1],[-0.161,-0.046,1,1],[-0.149,-0.048,1,1],[-0.136,-0.046,0,1],[-0.124,-0.048,1,1],[-0.111,-0.046,1,1],[-0.099,-0.048,0,1],[-0.086,-0.046,1,1],[-0.074,-0.048,0,1],[-0.061,-0.046,0,1],[-0.049,-0.048,1,1],[-0.036,-0.046,0,1],[-0.024,-0.048,0,0],[-0.011,-0.046,0,1],[0.001,-0.048,0,0],[0.014,-0.046,0,1],[0.026,-0.048,0,0],[0.039,-0.046,1,1],[0.051,-0.048,0,0],[0.064,-0.046,0,1],[0.076,-0.048,0,0],[0.089,-0.046,0,1],[0.101,-0.048,0,0],[0.114,-0.046,0,1],[0.126,-0.048,0,0],[0.139,-0.046,1,1],[0.151,-0.048,0,0],[0.164,-0.046,0,1],[0.176,-0.048,0,0],[0.189,-0.046,0,1],[0.201,-0.048,0,1],[0.212,-0.046,0,0],
[-0.210,-0.058,1,1],[-0.198,-0.059,0,1],[-0.186,-0.057,1,1],[-0.173,-0.059,1,1],[-0.161,-0.057,1,1],[-0.148,-0.059,0,1],[-0.136,-0.057,1,1],[-0.123,-0.059,1,1],[-0.111,-0.057,0,1],[-0.098,-0.059,1,1],[-0.086,-0.057,1,1],[-0.073,-0.059,0,1],[-0.061,-0.057,1,1],[-0.048,-0.059,0,1],[-0.036,-0.057,0,0],[-0.023,-0.059,1,1],[-0.011,-0.057,0,0],[0.002,-0.059,0,0],[0.014,-0.057,0,1],[0.027,-0.059,0,0],[0.039,-0.057,0,1],[0.052,-0.059,0,0],[0.064,-0.057,0,1],[0.077,-0.059,0,0],[0.089,-0.057,1,1],[0.102,-0.059,0,0],[0.114,-0.057,0,1],[0.127,-0.059,0,1],[0.139,-0.057,0,0],[0.152,-0.059,0,1],[0.164,-0.057,0,0],[0.177,-0.059,0,1],[0.189,-0.057,0,0],[0.202,-0.059,0,1],
[-0.211,-0.071,1,1],[-0.198,-0.069,1,1],[-0.186,-0.071,0,1],[-0.173,-0.069,1,1],[-0.161,-0.071,1,1],[-0.148,-0.069,1,1],[-0.136,-0.071,0,1],[-0.123,-0.069,1,1],[-0.111,-0.071,1,1],[-0.098,-0.069,0,1],[-0.086,-0.071,1,1],[-0.073,-0.069,0,1],[-0.061,-0.071,0,1],[-0.049,-0.069,1,1],[-0.014,-0.070,0,0],[-0.004,-0.069,0,0],[0.009,-0.071,0,1],[0.021,-0.069,0,0],[0.034,-0.071,0,0],[0.046,-0.069,0,1],[0.059,-0.071,0,0],[0.071,-0.069,1,1],[0.084,-0.071,0,0],[0.096,-0.069,0,1],[0.109,-0.071,0,0],[0.121,-0.069,0,1],[0.134,-0.071,0,0],[0.146,-0.069,0,1],[0.159,-0.071,0,1],[0.171,-0.069,0,0],[0.184,-0.071,0,1],[0.196,-0.069,0,0],[0.208,-0.071,0,1],
[-0.195,-0.080,1,1],[-0.181,-0.081,1,1],[-0.168,-0.079,0,1],[-0.156,-0.081,1,1],[-0.143,-0.079,1,1],[-0.131,-0.081,0,1],[-0.118,-0.079,1,1],[-0.106,-0.081,1,1],[-0.093,-0.079,0,1],[-0.081,-0.081,1,1],[-0.068,-0.079,0,1],[-0.056,-0.081,1,1],[-0.045,-0.083,0,1],[-0.016,-0.079,0,0],[-0.003,-0.081,0,0],[0.009,-0.079,0,1],[0.022,-0.081,0,0],[0.034,-0.079,0,1],[0.047,-0.081,0,0],[0.059,-0.079,0,0],[0.072,-0.081,0,1],[0.084,-0.079,1,1],[0.097,-0.081,0,0],[0.109,-0.079,0,1],[0.122,-0.081,0,0],[0.134,-0.079,0,1],[0.147,-0.081,0,0],[0.159,-0.079,0,1],[0.172,-0.081,0,1],[0.184,-0.079,0,0],[0.197,-0.081,0,1],[0.209,-0.079,0,0],
[-0.196,-0.092,1,1],[-0.184,-0.090,1,1],[-0.171,-0.092,1,1],[-0.159,-0.090,0,1],[-0.146,-0.092,1,1],[-0.134,-0.090,1,1],[-0.121,-0.092,0,1],[-0.109,-0.090,1,1],[-0.096,-0.092,1,1],[-0.084,-0.090,0,1],[-0.071,-0.092,1,1],[-0.059,-0.090,0,1],[-0.045,-0.093,0,1],[-0.034,-0.087,0,1],[-0.030,-0.094,0,1],[-0.016,-0.091,0,0],[-0.004,-0.093,0,0],[0.009,-0.091,0,1],[0.021,-0.093,0,0],[0.034,-0.091,0,0],[0.046,-0.093,0,1],[0.059,-0.091,0,0],[0.071,-0.093,0,1],[0.084,-0.091,1,1],[0.096,-0.093,0,0],[0.109,-0.091,0,1],[0.121,-0.093,0,0],[0.134,-0.091,0,1],[0.146,-0.093,0,0],[0.159,-0.091,0,1],[0.171,-0.093,0,0],[0.184,-0.091,0,1],[0.196,-0.093,0,0],
[-0.184,-0.102,1,1],[-0.172,-0.101,1,1],[-0.159,-0.103,0,1],[-0.147,-0.101,1,1],[-0.134,-0.103,1,1],[-0.122,-0.101,1,1],[-0.109,-0.103,0,1],[-0.097,-0.101,1,1],[-0.084,-0.103,0,1],[-0.072,-0.101,1,1],[-0.060,-0.104,1,1],[-0.001,-0.102,0,0],[0.011,-0.101,0,0],[0.024,-0.103,0,1],[0.036,-0.101,0,0],[0.049,-0.103,0,1],[0.061,-0.101,0,0],[0.074,-0.103,1,1],[0.086,-0.101,0,0],[0.099,-0.103,0,1],[0.111,-0.101,0,0],[0.124,-0.103,0,1],[0.136,-0.101,0,0],[0.149,-0.103,0,1],[0.161,-0.101,0,1],[0.174,-0.103,0,0],[0.186,-0.101,0,1],[0.199,-0.103,0,0],
[-0.163,-0.112,1,1],[-0.145,-0.114,1,1],[-0.129,-0.112,1,1],[-0.106,-0.114,1,1],[-0.093,-0.112,0,1],[-0.080,-0.114,1,1],[0.014,-0.113,0,0],[0.026,-0.114,0,1],[0.039,-0.112,0,0],[0.051,-0.114,0,0],[0.064,-0.112,0,1],[0.076,-0.114,0,0],[0.089,-0.112,0,1],[0.101,-0.114,0,0],[0.114,-0.112,0,1],[0.126,-0.114,0,0],[0.139,-0.112,0,0],[0.151,-0.114,0,1],[0.164,-0.112,0,0],[0.176,-0.114,0,1],[0.189,-0.112,0,0],
[0.036,-0.124,0,0],[0.049,-0.125,0,1],[0.061,-0.123,0,0],[0.074,-0.125,0,0],[0.086,-0.123,0,1],[0.099,-0.125,0,0],[0.111,-0.123,0,1],[0.124,-0.125,0,0],[0.136,-0.123,0,1],[0.149,-0.125,0,0],[0.161,-0.123,0,1],[0.174,-0.125,0,0],[0.186,-0.123,0,1],[0.199,-0.125,0,0],
[0.092,-0.136,0,1],[0.108,-0.134,0,0],[0.128,-0.136,0,1],[0.146,-0.132,0,0],[0.165,-0.134,0,1],[0.178,-0.135,0,0],[0.196,-0.137,0,1]
];

const edgePoints = [
[-0.100,-0.139,1,1],[-0.011,-0.133,1,1],[0.028,-0.135,0,0],[0.041,-0.146,0,1],[0.064,-0.138,0,1],[0.074,-0.151,0,0],[0.096,-0.145,0,1],[0.099,-0.165,0,1],[0.117,-0.143,0,1],[0.122,-0.143,0,1],[0.118,-0.159,0,1],[0.134,-0.154,0,1],[0.138,-0.141,0,1],[0.145,-0.139,0,0],[0.153,-0.148,0,1],[0.160,-0.139,0,0],[0.153,-0.160,0,1],[0.170,-0.140,0,0],[0.174,-0.154,0,0],[0.181,-0.164,0,1],[0.184,-0.137,0,1],[0.194,-0.146,0,1],[0.199,-0.158,0,0],[0.216,-0.140,0,1],[0.203,-0.133,0,0]
];

const palette = ['#db5f57', '#57d3db'];

// interleave base rows and fill rows so neither layer sits entirely on top
const baseSamples = topRows.concat(midRows, lowRows);
const allSamples = [];
const nMax = Math.max(baseSamples.length, fillRows.length);
for (let i = 0; i < nMax; i++) {
  if (i < baseSamples.length) allSamples.push(baseSamples[i]);
  if (i < fillRows.length) allSamples.push(fillRows[i]);
}
edgePoints.forEach(p => allSamples.push(p));

function fmtTick(v, digits) {
  const s = Math.abs(v).toFixed(digits);
  return (v < -1e-9 ? '\u2212' : '') + s;
}

const framePlugin = {
  id: 'frame',
  afterDatasetsDraw(chart) {
    const {ctx, chartArea: a} = chart;
    ctx.save();
    ctx.strokeStyle = '#8a8a8a';
    ctx.lineWidth = 1.4;
    ctx.strokeRect(a.left, a.top, a.right - a.left, a.bottom - a.top);
    ctx.restore();
  }
};

const tickFont = {family: "'DejaVu Serif', serif", size: 17};
const titleFont = {family: "'DejaVu Serif', serif", size: 18.3};

function makeChart(canvasId, labelIdx) {
  const pts = allSamples.map(s => ({x: s[0], y: s[1]}));
  const cols = allSamples.map(s => palette[s[labelIdx]]);
  return new Chart(document.getElementById(canvasId), {
    type: 'scatter',
    data: {datasets: [{
      data: pts,
      backgroundColor: cols,
      borderColor: '#ffffff',
      borderWidth: 0.8,
      pointRadius: 5.6,
      pointHoverRadius: 5.6
    }]},
    options: {
      responsive: false,
      animation: false,
      devicePixelRatio: 1,
      events: [],
      layout: {padding: {top: 16, right: 2, left: 0, bottom: 0}},
      plugins: {legend: {display: false}, tooltip: {enabled: false}},
      scales: {
        x: {
          type: 'linear', min: -0.2755, max: 0.2839,
          afterFit: s => { s.height = 50; },
          afterBuildTicks: s => { s.ticks = xTicks.map(v => ({value: v})); },
          ticks: {callback: v => fmtTick(v, 1), font: tickFont, color: '#222', padding: 3, maxRotation: 0, autoSkip: false},
          grid: {drawOnChartArea: false, drawTicks: true, tickLength: 5, color: '#8a8a8a', tickWidth: 1.2},
          border: {display: false},
          title: {display: true, text: xTitle, font: titleFont, color: '#222'}
        },
        y: {
          type: 'linear', min: -0.1847, max: 0.2423,
          afterFit: s => { s.width = 97; },
          afterBuildTicks: s => { s.ticks = yTicks.map(v => ({value: v})); },
          ticks: {callback: v => fmtTick(v, 2), font: tickFont, color: '#222', padding: 3, autoSkip: false},
          grid: {drawOnChartArea: false, drawTicks: true, tickLength: 5, color: '#8a8a8a', tickWidth: 1.2},
          border: {display: false},
          title: {display: true, text: yTitle, font: titleFont, color: '#222', padding: {top: 8, bottom: 0}}
        }
      }
    },
    plugins: [framePlugin]
  });
}

makeChart('chartTrue', 2);
makeChart('chartCluster', 3);

function buildLegend(id, names) {
  const box = document.getElementById(id);
  names.forEach((name, i) => {
    const cy = 24 + i * 22;
    const mk = document.createElement('div');
    mk.className = 'mk';
    mk.style.left = '19px';
    mk.style.top = (cy - 6) + 'px';
    mk.style.background = palette[i];
    box.appendChild(mk);
    const tx = document.createElement('div');
    tx.className = 'tx';
    tx.style.left = '45px';
    tx.style.top = (cy - 10) + 'px';
    tx.textContent = name;
    box.appendChild(tx);
  });
}
buildLegend('legTrue', classNames);
buildLegend('legCluster', clusterNames);
</script>
</body>
</html>
